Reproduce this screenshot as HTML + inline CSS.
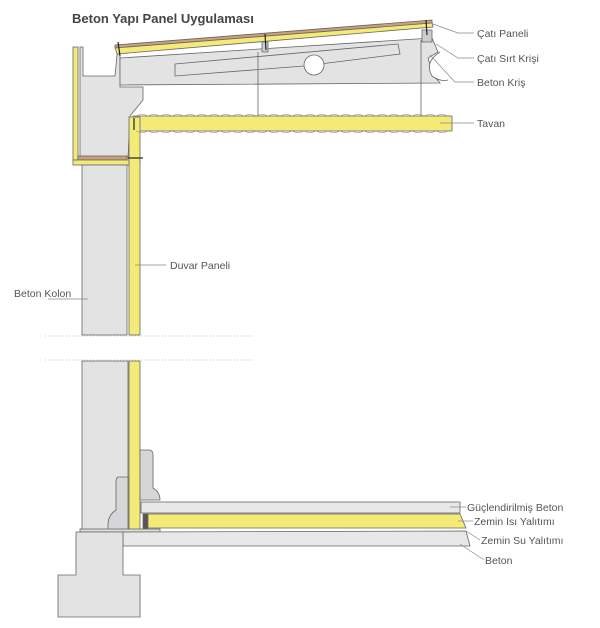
<!DOCTYPE html>
<html><head><meta charset="utf-8"><style>
html,body{margin:0;padding:0;background:#fff;width:600px;height:628px;overflow:hidden}
svg text{font-family:"Liberation Sans",sans-serif;fill:#555;font-size:10.5px}
</style></head><body>
<svg width="600" height="628" viewBox="0 0 600 628" xmlns="http://www.w3.org/2000/svg">
<text x="72" y="23" style="font-weight:bold;font-size:13px;fill:#444">Beton Yapı Panel Uygulaması</text>
<g stroke="#666" stroke-width="0.8">
<polygon points="80,47 83,47 83,76 115,76 117,55 120,50 120,87 143,87 143,100 130,116 128,158 80,158" fill="#e3e3e3"/>
<rect x="73" y="47" width="5" height="113" fill="#f3ea78"/>
<rect x="78" y="156" width="49" height="4" fill="#c9a07a"/>
<rect x="73" y="160" width="67" height="5" fill="#f3ea78"/>
<polygon points="120,58 432,38 438,52 428,58 433,75 440,83 120,85" fill="#e3e3e3"/>
<polygon points="175,64 398,44 400,54 304,66 175,76" fill="#e3e3e3"/>
<circle cx="314" cy="65" r="10" fill="#fff"/>
<path d="M440,52 Q424,62 432,76 Q440,82 448,80" fill="#fff"/>
<polygon points="115,47 432,22 433,27 117,54" fill="#f3ea78"/>
<polygon points="115,45 432,20 432,23 115,48" fill="#c9a07a"/>
<path d="M262,42 l6,0 0,10 -6,0z M422,30 l10,0 0,12 -10,0z" fill="#ccc"/>
<line x1="258" y1="52" x2="258" y2="131"/>
<line x1="421" y1="40" x2="421" y2="131"/>
<path d="M133,116 L452,116 L452,131 L133,131 Z" fill="#f3ea78"/>
<rect x="82" y="165" width="45" height="170" fill="#e3e3e3"/>
<rect x="129" y="117" width="11" height="218" fill="#f3ea78"/>
<rect x="82" y="361" width="46" height="170" fill="#e3e3e3"/>
<rect x="129" y="361" width="11" height="170" fill="#f3ea78"/>
<path d="M140,450 L150,450 Q153,451 153,455 L153,488 Q160,492 160,500 L140,500Z" fill="#d6d6d8"/>
<path d="M128,477 L118,477 Q116,478 116,482 L116,510 Q108,515 108,525 L108,530 L128,530Z" fill="#d6d6d8"/>
<rect x="141" y="502" width="319" height="11" fill="#e8e8e8"/>
<rect x="143" y="514" width="5" height="16" fill="#555"/>
<polygon points="148,514 460,514 466,528 148,528" fill="#f3ea78"/>
<rect x="80" y="529" width="80" height="3" fill="#ddd"/>
<polygon points="123,532 466,531 470,546 123,546" fill="#e8e8e8"/>
<polygon points="76,532 123,532 123,575 140,575 140,617 58,617 58,575 76,575" fill="#e3e3e3"/>
</g>
<g fill="none" stroke="#888" stroke-width="0.6">
<path d="M136,116 q6,-3 12,0 q6,-3 12,0 q6,-3 12,0 q6,-3 12,0 q6,-3 12,0 q6,-3 12,0 q6,-3 12,0 q6,-3 12,0 q6,-3 12,0 q6,-3 12,0 q6,-3 12,0 q6,-3 12,0 q6,-3 12,0 q6,-3 12,0 q6,-3 12,0 q6,-3 12,0 q6,-3 12,0 q6,-3 12,0 q6,-3 12,0 q6,-3 12,0 q6,-3 12,0 q6,-3 12,0 q6,-3 12,0 q6,-3 12,0 q6,-3 12,0 q6,-3 12,0"/>
<path d="M136,131 q6,3 12,0 q6,3 12,0 q6,3 12,0 q6,3 12,0 q6,3 12,0 q6,3 12,0 q6,3 12,0 q6,3 12,0 q6,3 12,0 q6,3 12,0 q6,3 12,0 q6,3 12,0 q6,3 12,0 q6,3 12,0 q6,3 12,0 q6,3 12,0 q6,3 12,0 q6,3 12,0 q6,3 12,0 q6,3 12,0 q6,3 12,0 q6,3 12,0 q6,3 12,0 q6,3 12,0 q6,3 12,0 q6,3 12,0"/>
</g>
<g stroke="#222" stroke-width="1.2">
<line x1="118" y1="42" x2="120" y2="56"/><line x1="265" y1="34" x2="266" y2="50"/><line x1="426" y1="20" x2="427" y2="35"/>
<line x1="134" y1="118" x2="134" y2="130"/><line x1="128" y1="158" x2="143" y2="158"/>
</g>
<g stroke="#aaa" stroke-dasharray="1,2" stroke-width="0.8">
<line x1="45" y1="336" x2="255" y2="336"/><line x1="45" y1="360" x2="255" y2="360"/>
</g>
<g fill="none" stroke="#888" stroke-width="0.7">
<polyline points="433,24 458,33 474,33"/>
<polyline points="436,44 458,58 474,58"/>
<polyline points="430,55 455,82 474,82"/>
<polyline points="440,123 474,123"/>
<polyline points="135,265 166,265"/>
<polyline points="48,299 88,299"/>
<polyline points="450,507 466,507"/>
<polyline points="458,521 473,521"/>
<polyline points="466,531 480,540"/>
<polyline points="460,544 484,560"/>
</g>
<text x="477" y="37">Çatı Paneli</text>
<text x="477" y="62">Çatı Sırt Krişi</text>
<text x="477" y="86">Beton Kriş</text>
<text x="477" y="127">Tavan</text>
<text x="170" y="269">Duvar Paneli</text>
<text x="14" y="297">Beton Kolon</text>
<text x="467" y="511">Güçlendirilmiş Beton</text>
<text x="474" y="525">Zemin Isı Yalıtımı</text>
<text x="481" y="544">Zemin Su Yalıtımı</text>
<text x="485" y="564">Beton</text>
</svg>
</body></html>
